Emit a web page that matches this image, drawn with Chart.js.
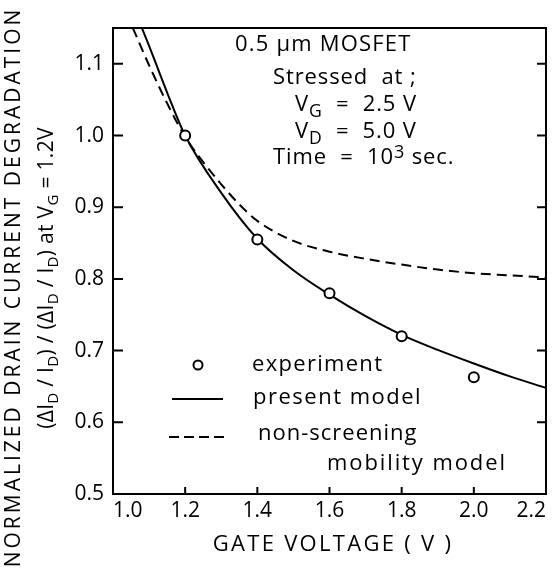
<!DOCTYPE html>
<html>
<head>
<meta charset="utf-8">
<script src="https://cdn.jsdelivr.net/npm/chart.js@4/dist/chart.umd.min.js"></script>
<style>
  body { margin: 0; background: #fff; }
  canvas { display: block; }
</style>
</head>
<body>
<canvas id="mosChart" width="555" height="571"></canvas>
<script>
// tick values
var xTicks = [1.0, 1.2, 1.4, 1.6, 1.8, 2.0, 2.2];
var yTicks = [0.5, 0.6, 0.7, 0.8, 0.9, 1.0, 1.1];

// experiment (circles)
var expVoltage = [1.2, 1.4, 1.6, 1.8, 2.0];
var expDegradation = [1.0, 0.855, 0.78, 0.72, 0.663];

// present model (solid)
var presentVoltage = [1.08, 1.1, 1.15, 1.2, 1.3, 1.4, 1.5, 1.6, 1.7, 1.8, 1.9, 2.0, 2.1, 2.2];
var presentDegradation = [1.15, 1.125, 1.06, 1.0, 0.92, 0.856, 0.812, 0.778, 0.748, 0.722, 0.701, 0.682, 0.664, 0.648];

// non-screening mobility model (dashed)
var nonScrVoltage = [1.055, 1.1, 1.15, 1.2, 1.25, 1.3, 1.35, 1.4, 1.5, 1.6, 1.7, 1.8, 1.9, 2.0, 2.1, 2.2];
var nonScrDegradation = [1.15, 1.098, 1.045, 0.998, 0.963, 0.932, 0.904, 0.881, 0.853, 0.838, 0.828, 0.82, 0.813, 0.808, 0.805, 0.802];

function pts(xs, ys) {
    return xs.map(function (x, i) { return { x: x, y: ys[i] }; });
}

var FONT = "'Open Sans', sans-serif";
var WEIGHT = '500 ';

// draws text made of pieces: [text, kind] kind 0 normal, 1 subscript, 2 superscript
function rich(ctx, parts, x, y, size, align, spacing, subScale) {
    var ss = subScale || 0.72;
    ctx.letterSpacing = (spacing || 0) + 'px';
    var widths = parts.map(function (p) {
        var s = p[1] ? size * ss : size;
        ctx.font = WEIGHT + s + 'px ' + FONT;
        return ctx.measureText(p[0]).width;
    });
    var total = widths.reduce(function (a, b) { return a + b; }, 0);
    var cx = align === 'center' ? x - total / 2 : x;
    parts.forEach(function (p, i) {
        var s = p[1] ? size * ss : size;
        var dy = p[1] === 1 ? size * 0.3 : (p[1] === 2 ? -size * 0.22 : 0);
        ctx.font = WEIGHT + s + 'px ' + FONT;
        ctx.fillText(p[0], cx, y + dy);
        cx += widths[i];
    });
    ctx.letterSpacing = '0px';
}

var decorations = {
    id: 'decorations',
    afterDraw: function (chart) {
        var ctx = chart.ctx;
        var a = chart.chartArea;
        var xs = chart.scales.x, ys = chart.scales.y;
        ctx.save();
        ctx.strokeStyle = '#000';
        ctx.fillStyle = '#000';
        ctx.lineWidth = 2;

        // top and right frame
        ctx.beginPath();
        ctx.moveTo(a.left, a.top);
        ctx.lineTo(a.right, a.top);
        ctx.lineTo(a.right, a.bottom);
        ctx.stroke();

        // inward ticks
        ctx.beginPath();
        yTicks.forEach(function (v) {
            var py = ys.getPixelForValue(v);
            if (v === ys.min) return;
            ctx.moveTo(a.left, py); ctx.lineTo(a.left + 10, py);
            ctx.moveTo(a.right, py); ctx.lineTo(a.right - 9, py);
        });
        xTicks.forEach(function (v) {
            if (v === xs.min || v === xs.max) return;
            var px = xs.getPixelForValue(v);
            ctx.moveTo(px, a.bottom); ctx.lineTo(px, a.bottom - 7);
        });
        ctx.stroke();

        ctx.textBaseline = 'middle';
        ctx.textAlign = 'left';

        // stress conditions
        rich(ctx, [['0.5 \u03bcm MOSFET', 0]], 235, 45, 22, 'left', 1.2);
        rich(ctx, [['Stressed  at ;', 0]], 273, 78, 22, 'left', 0.9);
        rich(ctx, [['V', 0], ['G', 1], ['  =  2.5 V', 0]], 295, 105, 22, 'left', 0.9, 0.8);
        rich(ctx, [['V', 0], ['D', 1], ['  =  5.0 V', 0]], 295, 132, 22, 'left', 0.9, 0.8);
        rich(ctx, [['Time  =  10', 0], ['3', 2], [' sec.', 0]], 273, 158, 22, 'left', 0.9, 0.82);

        // legend
        ctx.beginPath();
        ctx.arc(198, 365, 4.5, 0, Math.PI * 2);
        ctx.stroke();
        ctx.beginPath();
        ctx.moveTo(172, 399); ctx.lineTo(223, 399);
        ctx.stroke();
        ctx.setLineDash([10, 5]);
        ctx.beginPath();
        ctx.moveTo(169, 437); ctx.lineTo(224, 437);
        ctx.stroke();
        ctx.setLineDash([]);
        rich(ctx, [['experiment', 0]], 252, 365, 22, 'left', 1.3);
        rich(ctx, [['present model', 0]], 253, 398, 22, 'left', 1.5);
        rich(ctx, [['non-screening', 0]], 258, 434, 22, 'left', 1.0);
        rich(ctx, [['mobility model', 0]], 327, 464, 22, 'left', 1.9);

        // x title
        rich(ctx, [['GATE VOLTAGE ( V )', 0]], 333, 545, 22, 'center', 2.3);

        // y titles
        ctx.save();
        ctx.translate(14, 287);
        ctx.rotate(-Math.PI / 2);
        rich(ctx, [['NORMALIZED DRAIN CURRENT DEGRADATION', 0]], 0, 0, 21, 'center', 3.0);
        ctx.restore();
        ctx.save();
        ctx.translate(47, 278);
        ctx.rotate(-Math.PI / 2);
        rich(ctx, [['(\u0394I', 0], ['D', 1], [' / I', 0], ['D', 1], [') / (\u0394I', 0], ['D', 1], [' / I', 0], ['D', 1], [') at V', 0], ['G', 1], [' = 1.2V', 0]], 0, 0, 21, 'center', 0.3);
        ctx.restore();

        ctx.restore();
    }
};

var ctx = document.getElementById('mosChart').getContext('2d');
var chart = new Chart(ctx, {
    type: 'scatter',
    data: {
        datasets: [
            {
                label: 'experiment',
                data: pts(expVoltage, expDegradation),
                pointStyle: 'circle',
                pointRadius: 5,
                pointBorderWidth: 2,
                borderColor: '#000',
                backgroundColor: '#fff',
                showLine: false
            },
            {
                label: 'present model',
                data: pts(presentVoltage, presentDegradation),
                showLine: true,
                borderColor: '#000',
                borderWidth: 2,
                pointRadius: 0,
                cubicInterpolationMode: 'monotone'
            },
            {
                label: 'non-screening mobility model',
                data: pts(nonScrVoltage, nonScrDegradation),
                showLine: true,
                borderColor: '#000',
                borderWidth: 2,
                borderDash: [10, 6],
                pointRadius: 0,
                cubicInterpolationMode: 'monotone'
            }
        ]
    },
    options: {
        responsive: false,
        animation: false,
        devicePixelRatio: 1,
        layout: { padding: { top: 28, right: 9, left: 0, bottom: 0 } },
        plugins: { legend: { display: false }, tooltip: { enabled: false } },
        scales: {
            x: {
                type: 'linear',
                min: 1.0,
                max: 2.2,
                afterFit: function (s) { s.height = 77; },
                afterBuildTicks: function (s) { s.ticks = xTicks.map(function (v) { return { value: v }; }); },
                grid: { display: false, drawTicks: false },
                border: { color: '#000', width: 2 },
                ticks: {
                    color: '#000',
                    padding: 4,
                    align: 'inner',
                    autoSkip: false,
                    maxRotation: 0,
                    font: { family: FONT, size: 21, weight: '500' },
                    callback: function (v) { return v.toFixed(1); }
                }
            },
            y: {
                type: 'linear',
                min: 0.5,
                max: 1.15,
                afterFit: function (s) { s.width = 113; },
                afterBuildTicks: function (s) { s.ticks = yTicks.map(function (v) { return { value: v }; }); },
                grid: { display: false, drawTicks: false },
                border: { color: '#000', width: 2 },
                ticks: {
                    color: '#000',
                    padding: 9,
                    autoSkip: false,
                    font: { family: FONT, size: 21, weight: '500' },
                    callback: function (v) { return v.toFixed(1); }
                }
            }
        }
    },
    plugins: [decorations]
});
</script>
</body>
</html>
